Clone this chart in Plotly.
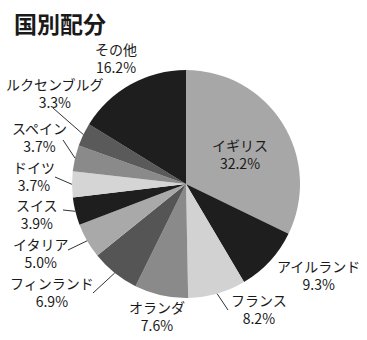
import math
import plotly.graph_objects as go

# ---- data ----
countries = ["イギリス", "アイルランド", "フランス", "オランダ", "フィンランド",
             "イタリア", "スイス", "ドイツ", "スペイン", "ルクセンブルグ", "その他"]
shares = [32.2, 9.3, 8.2, 7.6, 6.9, 5.0, 3.9, 3.7, 3.7, 3.3, 16.2]
colors = ["#a7a7a7", "#1e1e1e", "#d2d2d2", "#8a8a8a", "#555555",
          "#a9a9a9", "#1e1e1e", "#d5d5d5", "#8a8a8a", "#5a5a5a", "#1e1e1e"]

# ---- layout (pixel geometry) ----
W, H = 367, 340
cx, cy, r = 186, 184, 114
# label centres (px) and connector end points (px)
label_pos = [(240, 154), (318, 275), (259, 309), (157, 316), (52, 292),
             (40, 253), (37, 214), (34, 176), (39, 137), (55, 93), (116, 58)]
connector_end = [None, None, (228, 310), None, (93, 293),
                 (68, 250), (63, 210), (55, 177), (63, 140), (53, 108), None]

def px(x):
    return x / W

def py(y):
    return 1 - y / H

fig = go.Figure()
fig.add_trace(go.Pie(
    labels=countries, values=shares, sort=False, direction="clockwise", rotation=0,
    marker=dict(colors=colors, line=dict(width=0)),
    textinfo="none", hoverinfo="label+percent", showlegend=False,
    domain=dict(x=[px(cx - r), px(cx + r)], y=[py(cy + r), py(cy - r)]),
))

font = "Noto Sans CJK JP, Noto Sans, sans-serif"
annotations = [dict(
    text="<b>国別配分</b>", x=px(12), y=py(23), xref="paper", yref="paper",
    xanchor="left", yanchor="middle", showarrow=False,
    font=dict(family=font, size=23, color="#1a1a1a"))]
shapes = []

total = sum(shares)
cum = 0.0
for name, v, pos, end in zip(countries, shares, label_pos, connector_end):
    mid = (cum + v / 2) / total * 2 * math.pi
    cum += v
    annotations.append(dict(
        text=f"{name}<br>{v:.1f}%", x=px(pos[0]), y=py(pos[1]),
        xref="paper", yref="paper", xanchor="center", yanchor="middle",
        showarrow=False, align="center",
        font=dict(family=font, size=14, color="#1a1a1a")))
    if end is not None:
        ex = cx + r * math.sin(mid)
        ey = cy - r * math.cos(mid)
        shapes.append(dict(type="line", xref="paper", yref="paper",
                           x0=px(ex), y0=py(ey), x1=px(end[0]), y1=py(end[1]),
                           line=dict(color="#333333", width=1)))

fig.update_layout(
    width=W, height=H, margin=dict(l=0, r=0, t=0, b=0),
    paper_bgcolor="white", plot_bgcolor="white",
    annotations=annotations, shapes=shapes,
)
fig.write_html("out.html")
